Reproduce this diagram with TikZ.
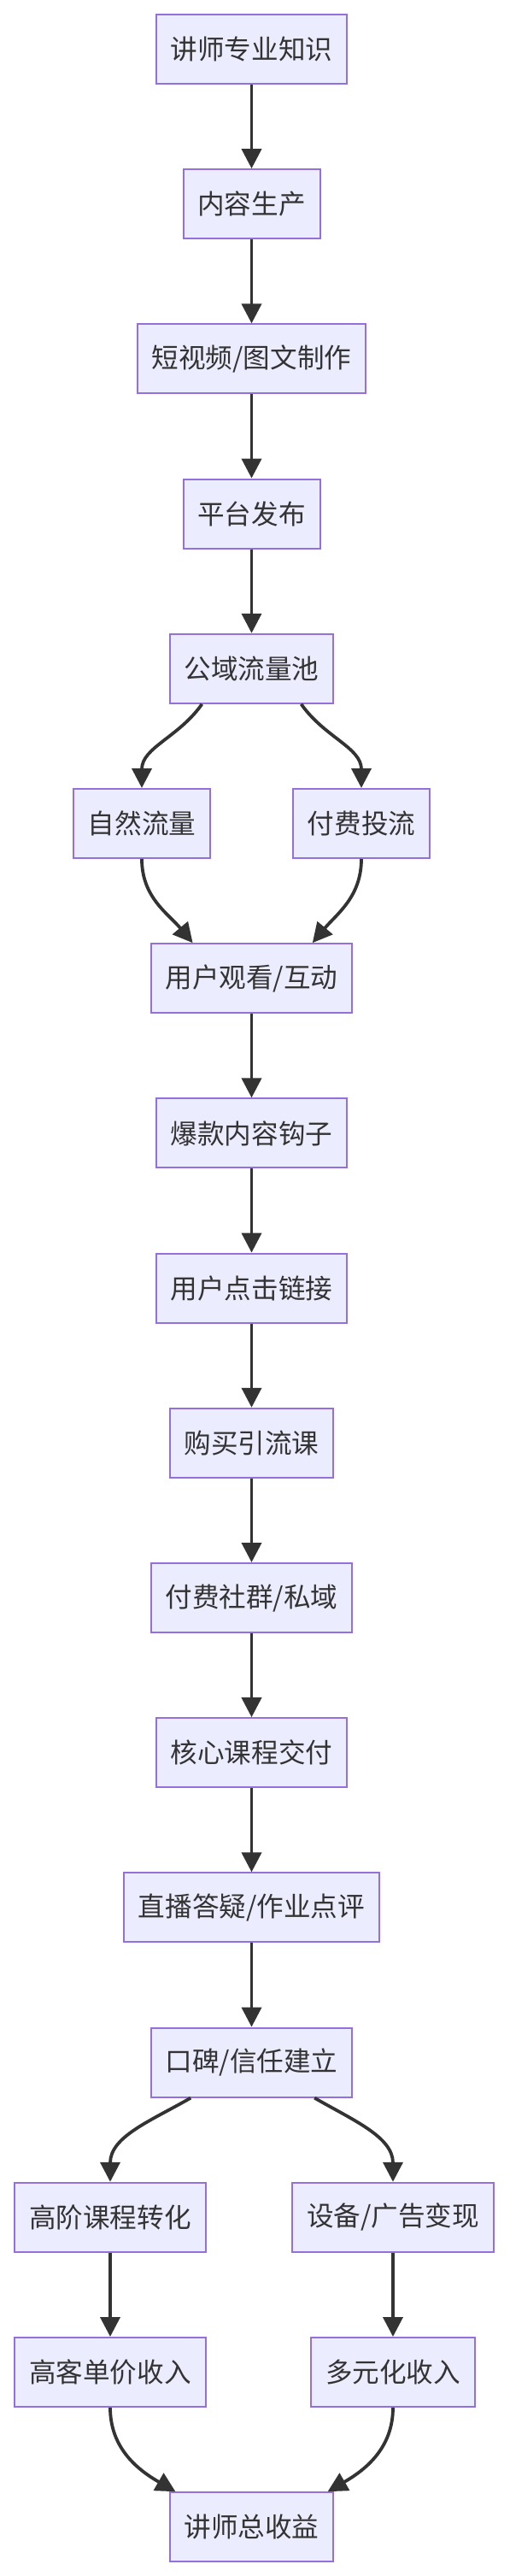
\documentclass[tikz,border=0pt]{standalone}
\usepackage{fontspec}
\setmainfont{Noto Sans CJK SC}
\usetikzlibrary{arrows.meta,positioning,calc}
\definecolor{nodefill}{HTML}{ECECFF}
\definecolor{nodeline}{HTML}{9370DB}
\definecolor{edgegray}{HTML}{333333}

\begin{document}
\begin{tikzpicture}[
    font=\fontsize{15.8pt}{18pt}\selectfont,
    >={Triangle[length=11.5pt,width=11.5pt]},
    node distance=49.1pt,
    block/.style ={rectangle, draw=nodeline, line width=1pt, fill=nodefill,
                   text=edgegray, minimum height=40.5pt,
                   inner xsep=8.4pt, inner ysep=0pt},
    flow/.style  ={->, draw=edgegray, line width=1.9pt},
]
\useasboundingbox (0,0) rectangle (298pt,-1507pt);

% ----------------------------------------------------------------------
%  content production and traffic
% ----------------------------------------------------------------------
\node[block] (know) at (147.25pt,-28.75pt) {讲师专业知识};
\node[block, below=of know]    (produce) {内容生产};
\node[block, below=of produce] (make)    {短视频/图文制作};
\node[block, below=of make]    (publish) {平台发布};
\node[block, below=of publish] (pool)    {公域流量池};

\node[block, below=of pool, xshift=-64.25pt] (organic) {自然流量};
\node[block, below=of pool, xshift=64.25pt]  (paid)    {付费投流};

\node[block, below=of organic, xshift=64.25pt] (watch) {用户观看/互动};

% ----------------------------------------------------------------------
%  conversion and delivery
% ----------------------------------------------------------------------
\node[block, below=of watch]   (hook)    {爆款内容钩子};
\node[block, below=of hook]    (click)   {用户点击链接};
\node[block, below=of click]   (buy)     {购买引流课};
\node[block, below=of buy]     (group)   {付费社群/私域};
\node[block, below=of group]   (deliver) {核心课程交付};
\node[block, below=of deliver] (live)    {直播答疑/作业点评};
\node[block, below=of live]    (trust)   {口碑/信任建立};

% ----------------------------------------------------------------------
%  monetisation
% ----------------------------------------------------------------------
\node[block, below=of trust, xshift=-82.75pt] (advanced) {高阶课程转化};
\node[block, below=of trust, xshift=82.75pt]  (ads)      {设备/广告变现};
\node[block, below=of advanced] (highinc)  {高客单价收入};
\node[block, below=of ads]      (multiinc) {多元化收入};
\node[block, below=of highinc, xshift=82.75pt] (total) {讲师总收益};

% --- straight edges ---
\draw[flow] (know)    -- (produce);
\draw[flow] (produce) -- (make);
\draw[flow] (make)    -- (publish);
\draw[flow] (publish) -- (pool);
\draw[flow] (watch)   -- (hook);
\draw[flow] (hook)    -- (click);
\draw[flow] (click)   -- (buy);
\draw[flow] (buy)     -- (group);
\draw[flow] (group)   -- (deliver);
\draw[flow] (deliver) -- (live);
\draw[flow] (live)    -- (trust);
\draw[flow] (advanced) -- (highinc);
\draw[flow] (ads)      -- (multiinc);

% --- traffic split and merge ---
\draw[flow] ($(pool.south west)!0.2!(pool.south east)$)
      to[out=-125, in=90] (organic.north);
\draw[flow] ($(pool.south west)!0.8!(pool.south east)$)
      to[out=-55, in=90] (paid.north);
\draw[flow] (organic.south)
      to[out=-90, in=130] ($(watch.north west)!0.21!(watch.north east)$);
\draw[flow] (paid.south)
      to[out=-90, in=50] ($(watch.north west)!0.8!(watch.north east)$);

% --- revenue split and merge ---
\draw[flow] ($(trust.south west)!0.2!(trust.south east)$)
      to[out=-150, in=90] (advanced.north);
\draw[flow] ($(trust.south west)!0.81!(trust.south east)$)
      to[out=-30, in=90] (ads.north);
\draw[flow] (highinc.south)
      to[out=-90, in=150] ($(total.north west)!0.04!(total.north east)$);
\draw[flow] (multiinc.south)
      to[out=-90, in=30] ($(total.north west)!0.96!(total.north east)$);

\end{tikzpicture}
\end{document}
